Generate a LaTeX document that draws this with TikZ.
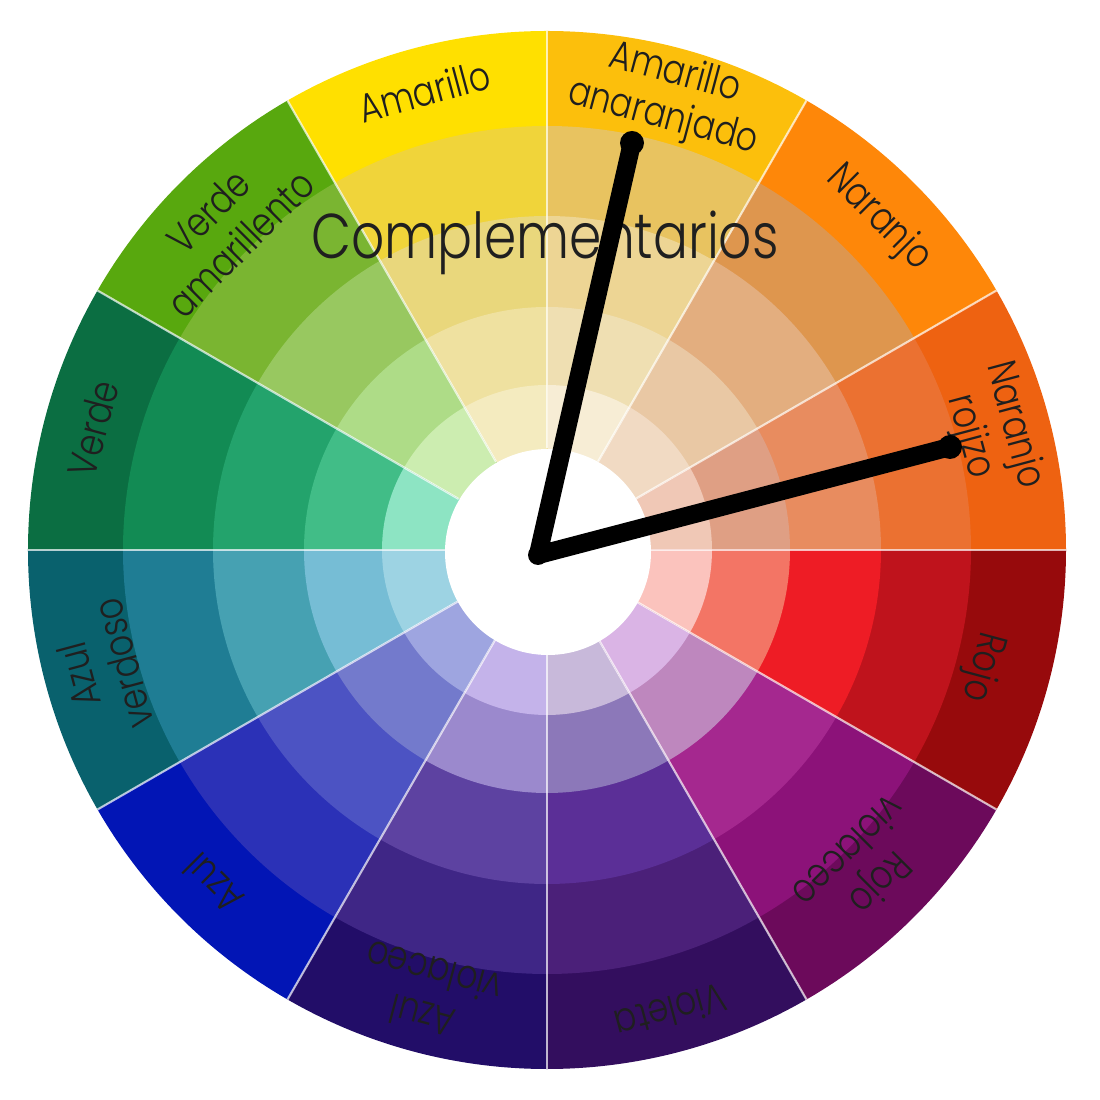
\documentclass[tikz,border=0pt]{standalone}
\usepackage{fontspec}
\setmainfont{Poppins}[UprightFont=* Light, FakeStretch=0.82]

% Sector colours, band 1 (outer) to band 5 (inner)
\definecolor{nr1}{HTML}{EE6211}\definecolor{nr2}{HTML}{EB7131}\definecolor{nr3}{HTML}{E88C5F}\definecolor{nr4}{HTML}{DF9F84}\definecolor{nr5}{HTML}{F0C8B6}
\definecolor{na1}{HTML}{FE8709}\definecolor{na2}{HTML}{DE964E}\definecolor{na3}{HTML}{E3AE7F}\definecolor{na4}{HTML}{E9C8A4}\definecolor{na5}{HTML}{F1DAC3}
\definecolor{aa1}{HTML}{FCBF0C}\definecolor{aa2}{HTML}{E8C360}\definecolor{aa3}{HTML}{EDD594}\definecolor{aa4}{HTML}{EFDFB2}\definecolor{aa5}{HTML}{F7EDD5}
\definecolor{am1}{HTML}{FFE000}\definecolor{am2}{HTML}{F0D43A}\definecolor{am3}{HTML}{E9D77C}\definecolor{am4}{HTML}{EFE1A0}\definecolor{am5}{HTML}{F4EBBF}
\definecolor{va1}{HTML}{58A80E}\definecolor{va2}{HTML}{7AB531}\definecolor{va3}{HTML}{98C860}\definecolor{va4}{HTML}{AEDC87}\definecolor{va5}{HTML}{CCEDB0}
\definecolor{ve1}{HTML}{0B6E42}\definecolor{ve2}{HTML}{128B54}\definecolor{ve3}{HTML}{23A36C}\definecolor{ve4}{HTML}{41BD87}\definecolor{ve5}{HTML}{8DE4C3}
\definecolor{av1}{HTML}{09616D}\definecolor{av2}{HTML}{1F7D94}\definecolor{av3}{HTML}{46A1B2}\definecolor{av4}{HTML}{76BDD5}\definecolor{av5}{HTML}{9DD3E3}
\definecolor{az1}{HTML}{0215B5}\definecolor{az2}{HTML}{2B31B7}\definecolor{az3}{HTML}{4C53C3}\definecolor{az4}{HTML}{737ACC}\definecolor{az5}{HTML}{9EA5E0}
\definecolor{ai1}{HTML}{220D68}\definecolor{ai2}{HTML}{3F2686}\definecolor{ai3}{HTML}{5D42A1}\definecolor{ai4}{HTML}{9B89CD}\definecolor{ai5}{HTML}{C4B3EA}
\definecolor{vi1}{HTML}{330E5E}\definecolor{vi2}{HTML}{4B2079}\definecolor{vi3}{HTML}{5B2F97}\definecolor{vi4}{HTML}{8C78B9}\definecolor{vi5}{HTML}{C8B9DA}
\definecolor{rv1}{HTML}{6C0A5B}\definecolor{rv2}{HTML}{8C1279}\definecolor{rv3}{HTML}{A5288F}\definecolor{rv4}{HTML}{BE87BE}\definecolor{rv5}{HTML}{DAB4E5}
\definecolor{ro1}{HTML}{970A0C}\definecolor{ro2}{HTML}{BF131C}\definecolor{ro3}{HTML}{EE1C25}\definecolor{ro4}{HTML}{F37565}\definecolor{ro5}{HTML}{FBC3BD}

\begin{document}
\begin{tikzpicture}[
    divider/.style={white, opacity=0.7, line width=0.6pt},
    sectortext/.style={font=\fontsize{11.5}{13}\selectfont, align=center, text=black!88, inner sep=0pt},
    hand/.style={line width=5.2pt, line cap=round, line join=round},
  ]
  % Frame and centre of the wheel
  \useasboundingbox (-5.47,-5.50) rectangle (5.53,5.50);
  \coordinate (O) at (0,0);

  % Draw the bands of each sector, outer band first
  \foreach \a/\s in {0/nr, 30/na, 60/aa, 90/am, 120/va, 150/ve, 180/av, 210/az, 240/ai, 270/vi, 300/rv, 330/ro}
    \foreach \i/\r in {1/5.19, 2/4.24, 3/3.34, 4/2.43, 5/1.65}
      \fill[\s\i] (O) -- (\a:\r) arc[start angle=\a, end angle=\a+30, radius=\r] -- cycle;

  % Thin lines between the sectors
  \foreach \a in {0,30,...,330}
    \draw[divider] (\a:1.02) -- (\a:5.19);

  % White hub
  \fill[white] (0.01,-0.02) circle (1.03);

  % Sector names
  \foreach \a/\r/\txt/\n in {15/4.60/{Naranjo\\rojizo}/nr, 45/4.69/{Naranjo}/na, 75/4.70/{Amarillo\\anaranjado}/aa,
      105/4.75/{Amarillo}/am, 135/4.56/{Verde\\amarillento}/va, 165/4.70/{Verde}/ve,
      195/4.62/{Azul\\verdoso}/av, 225/4.72/{Azul}/az, 255/4.60/{Azul\\violaceo}/ai,
      285/4.78/{Violeta}/vi, 315/4.50/{Rojo\\violaceo}/rv, 345/4.50/{Rojo}/ro}
    \node[sectortext, rotate=\a-90] (\n) at (\a:\r) {\txt};

  % Title
  \node[font=\fontsize{18}{20}\selectfont, text=black!88] (title) at (-0.02,3.07) {Complementarios};

  % Clock hands pointing at the two complementary colours
  \coordinate (hub) at (-0.09,-0.05);
  \coordinate (tipA) at (0.85,4.07);
  \coordinate (tipB) at (4.03,1.03);
  \draw[hand] (tipA) -- (hub) -- (tipB);
  \fill (tipA) circle (0.12);
  \fill (tipB) circle (0.12);
  \fill (hub) circle (0.10);
\end{tikzpicture}
\end{document}
